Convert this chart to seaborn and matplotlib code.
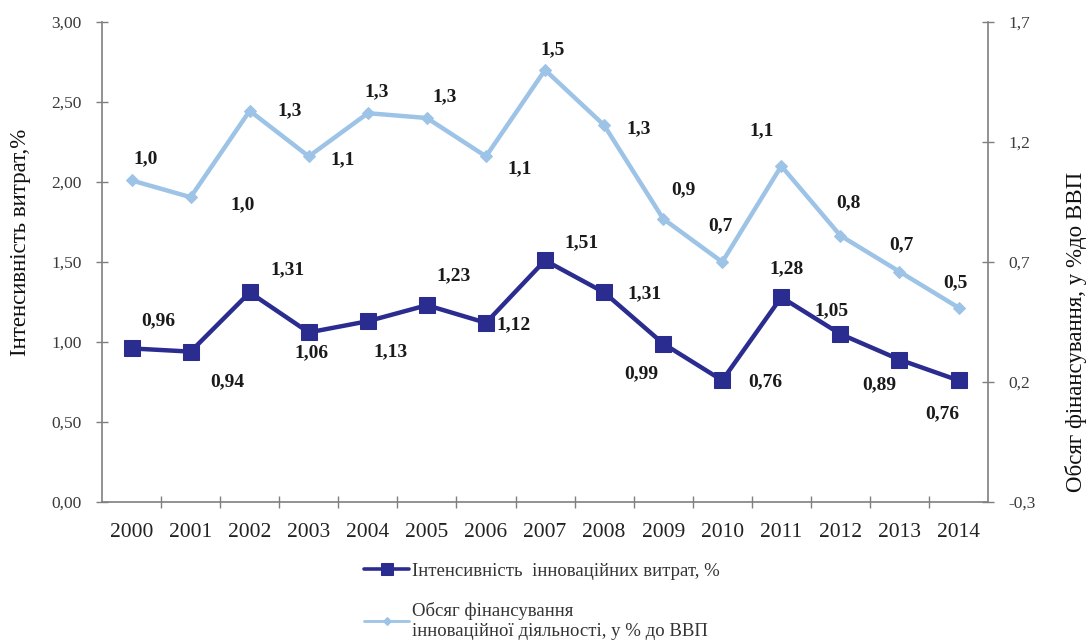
import matplotlib
matplotlib.use("Agg")
import matplotlib.pyplot as plt
from matplotlib.ticker import FixedLocator, FuncFormatter
import seaborn as sns
import pandas as pd

# Data
years = [2000, 2001, 2002, 2003, 2004, 2005, 2006, 2007,
         2008, 2009, 2010, 2011, 2012, 2013, 2014]
intensity = [0.96, 0.94, 1.31, 1.06, 1.13, 1.23, 1.12, 1.51,
             1.31, 0.99, 0.76, 1.28, 1.05, 0.89, 0.76]
financing = [1.04, 0.97, 1.33, 1.14, 1.32, 1.30, 1.14, 1.50,
             1.27, 0.88, 0.70, 1.10, 0.81, 0.66, 0.51]

intensity_name = "Інтенсивність  інноваційних витрат, %"
financing_name = "Обсяг фінансування\nінноваційної діяльності, у % до ВВП"
left_label = "Інтенсивність витрат,%"
right_label = "Обсяг фінансування, у %до ВВП"
left_ticks = [0.0, 0.5, 1.0, 1.5, 2.0, 2.5, 3.0]
right_ticks = [-0.3, 0.2, 0.7, 1.2, 1.7]

df = pd.DataFrame({"year": years, "intensity": intensity, "financing": financing})

sns.set_theme(style="white")
plt.rcParams["font.family"] = ["Liberation Serif", "DejaVu Serif"]

dark = "#2B2C8F"
light = "#9DC3E6"
axis_grey = "#7F7F7F"
text_grey = "#3A3A3A"

fig = plt.figure(figsize=(10.89, 6.41), dpi=100)
ax = fig.add_axes([0.0937, 0.2168, 0.8136, 0.7489])
ax2 = ax.twinx()

sns.lineplot(data=df, x="year", y="intensity", ax=ax, color=dark, linewidth=3.2,
             marker="s", markersize=11, markeredgecolor=dark,
             label=intensity_name, legend=False)
sns.lineplot(data=df, x="year", y="financing", ax=ax2, color=light, linewidth=3.2,
             marker="D", markersize=6, markeredgecolor=light,
             label=financing_name, legend=False)

ax.set_xlim(years[0] - 0.5, years[-1] + 0.5)
ax.set_ylim(left_ticks[0], left_ticks[-1])
ax2.set_ylim(right_ticks[0], right_ticks[-1])

comma2 = FuncFormatter(lambda v, p: f"{v:.2f}".replace(".", ","))
comma1 = FuncFormatter(lambda v, p: f"{v:.1f}".replace(".", ","))
ax.yaxis.set_major_locator(FixedLocator(left_ticks))
ax.yaxis.set_major_formatter(comma2)
ax2.yaxis.set_major_locator(FixedLocator(right_ticks))
ax2.yaxis.set_major_formatter(comma1)

ax.xaxis.set_major_locator(FixedLocator(years))
ax.set_xticklabels([str(y) for y in years])
ax.xaxis.set_minor_locator(FixedLocator([y + 0.5 for y in years[:-1]]))

ax.tick_params(axis="x", which="major", length=0, pad=15, labelsize=15.5, labelcolor="#222222")
ax.tick_params(axis="x", which="minor", length=9, width=1.0, direction="inout", color=axis_grey, bottom=True)
ax.tick_params(axis="y", length=9, width=1.0, direction="inout", color=axis_grey,
               labelsize=12.5, labelcolor=text_grey, pad=10, left=True)
ax2.tick_params(axis="y", length=9, width=1.0, direction="inout", color=axis_grey,
                labelsize=12.5, labelcolor=text_grey, pad=10, right=True)

for a in (ax, ax2):
    a.set_xlabel("")
    a.spines["top"].set_visible(False)
    for s in ("left", "right", "bottom"):
        a.spines[s].set_color(axis_grey)
        a.spines[s].set_linewidth(1.2)
ax.spines["right"].set_visible(False)
ax2.spines["left"].set_visible(False)
ax2.spines["bottom"].set_visible(False)

ax.set_ylabel(left_label, fontsize=16.5, color="#111111")
ax.yaxis.set_label_coords(-0.08, 0.54)
ax2.set_ylabel(right_label, fontsize=16.5, color="#111111")
ax2.yaxis.set_label_coords(1.087, 0.354)

# Value labels (offsets in pixels from each point)
dark_offsets = [(27, 28), (37, -30), (38, 23), (3, -20), (23, -31), (27, 29),
                (28, -2), (36, 18), (40, -1), (-22, -30), (43, -1), (5, 28),
                (-9, 23), (-20, -25), (-16, -33)]
light_offsets = [(14, 22), (52, -8), (40, 0), (34, -3), (9, 21), (18, 21),
                 (34, -12), (8, 20), (35, -4), (20, 29), (-2, 36), (-20, 35),
                 (8, 33), (2, 27), (-3, 25)]

for x, v, off in zip(years, intensity, dark_offsets):
    ax.annotate(f"{v:.2f}".replace(".", ","), (x, v), xytext=off,
                textcoords="offset pixels", ha="center", va="center",
                fontsize=14, fontweight="bold", color="#1a1a1a")
for x, v, off in zip(years, financing, light_offsets):
    ax2.annotate(f"{v:.1f}".replace(".", ","), (x, v), xytext=off,
                 textcoords="offset pixels", ha="center", va="center",
                 fontsize=14, fontweight="bold", color="#1a1a1a")

h1, l1 = ax.get_legend_handles_labels()
h2, l2 = ax2.get_legend_handles_labels()
leg = fig.legend(h1 + h2, l1 + l2, loc="upper left", bbox_to_anchor=(0.326, 0.137),
                 frameon=False, fontsize=13.5, handlelength=2.4, labelspacing=1.2,
                 handletextpad=0.15, borderpad=0, labelcolor="#333333")
leg.legend_handles[0].set_linewidth(2.6)
leg.legend_handles[0].set_markersize(8)
leg.legend_handles[1].set_linewidth(2.0)
leg.legend_handles[1].set_markersize(4.5)

fig.savefig("out.png", dpi=100)
